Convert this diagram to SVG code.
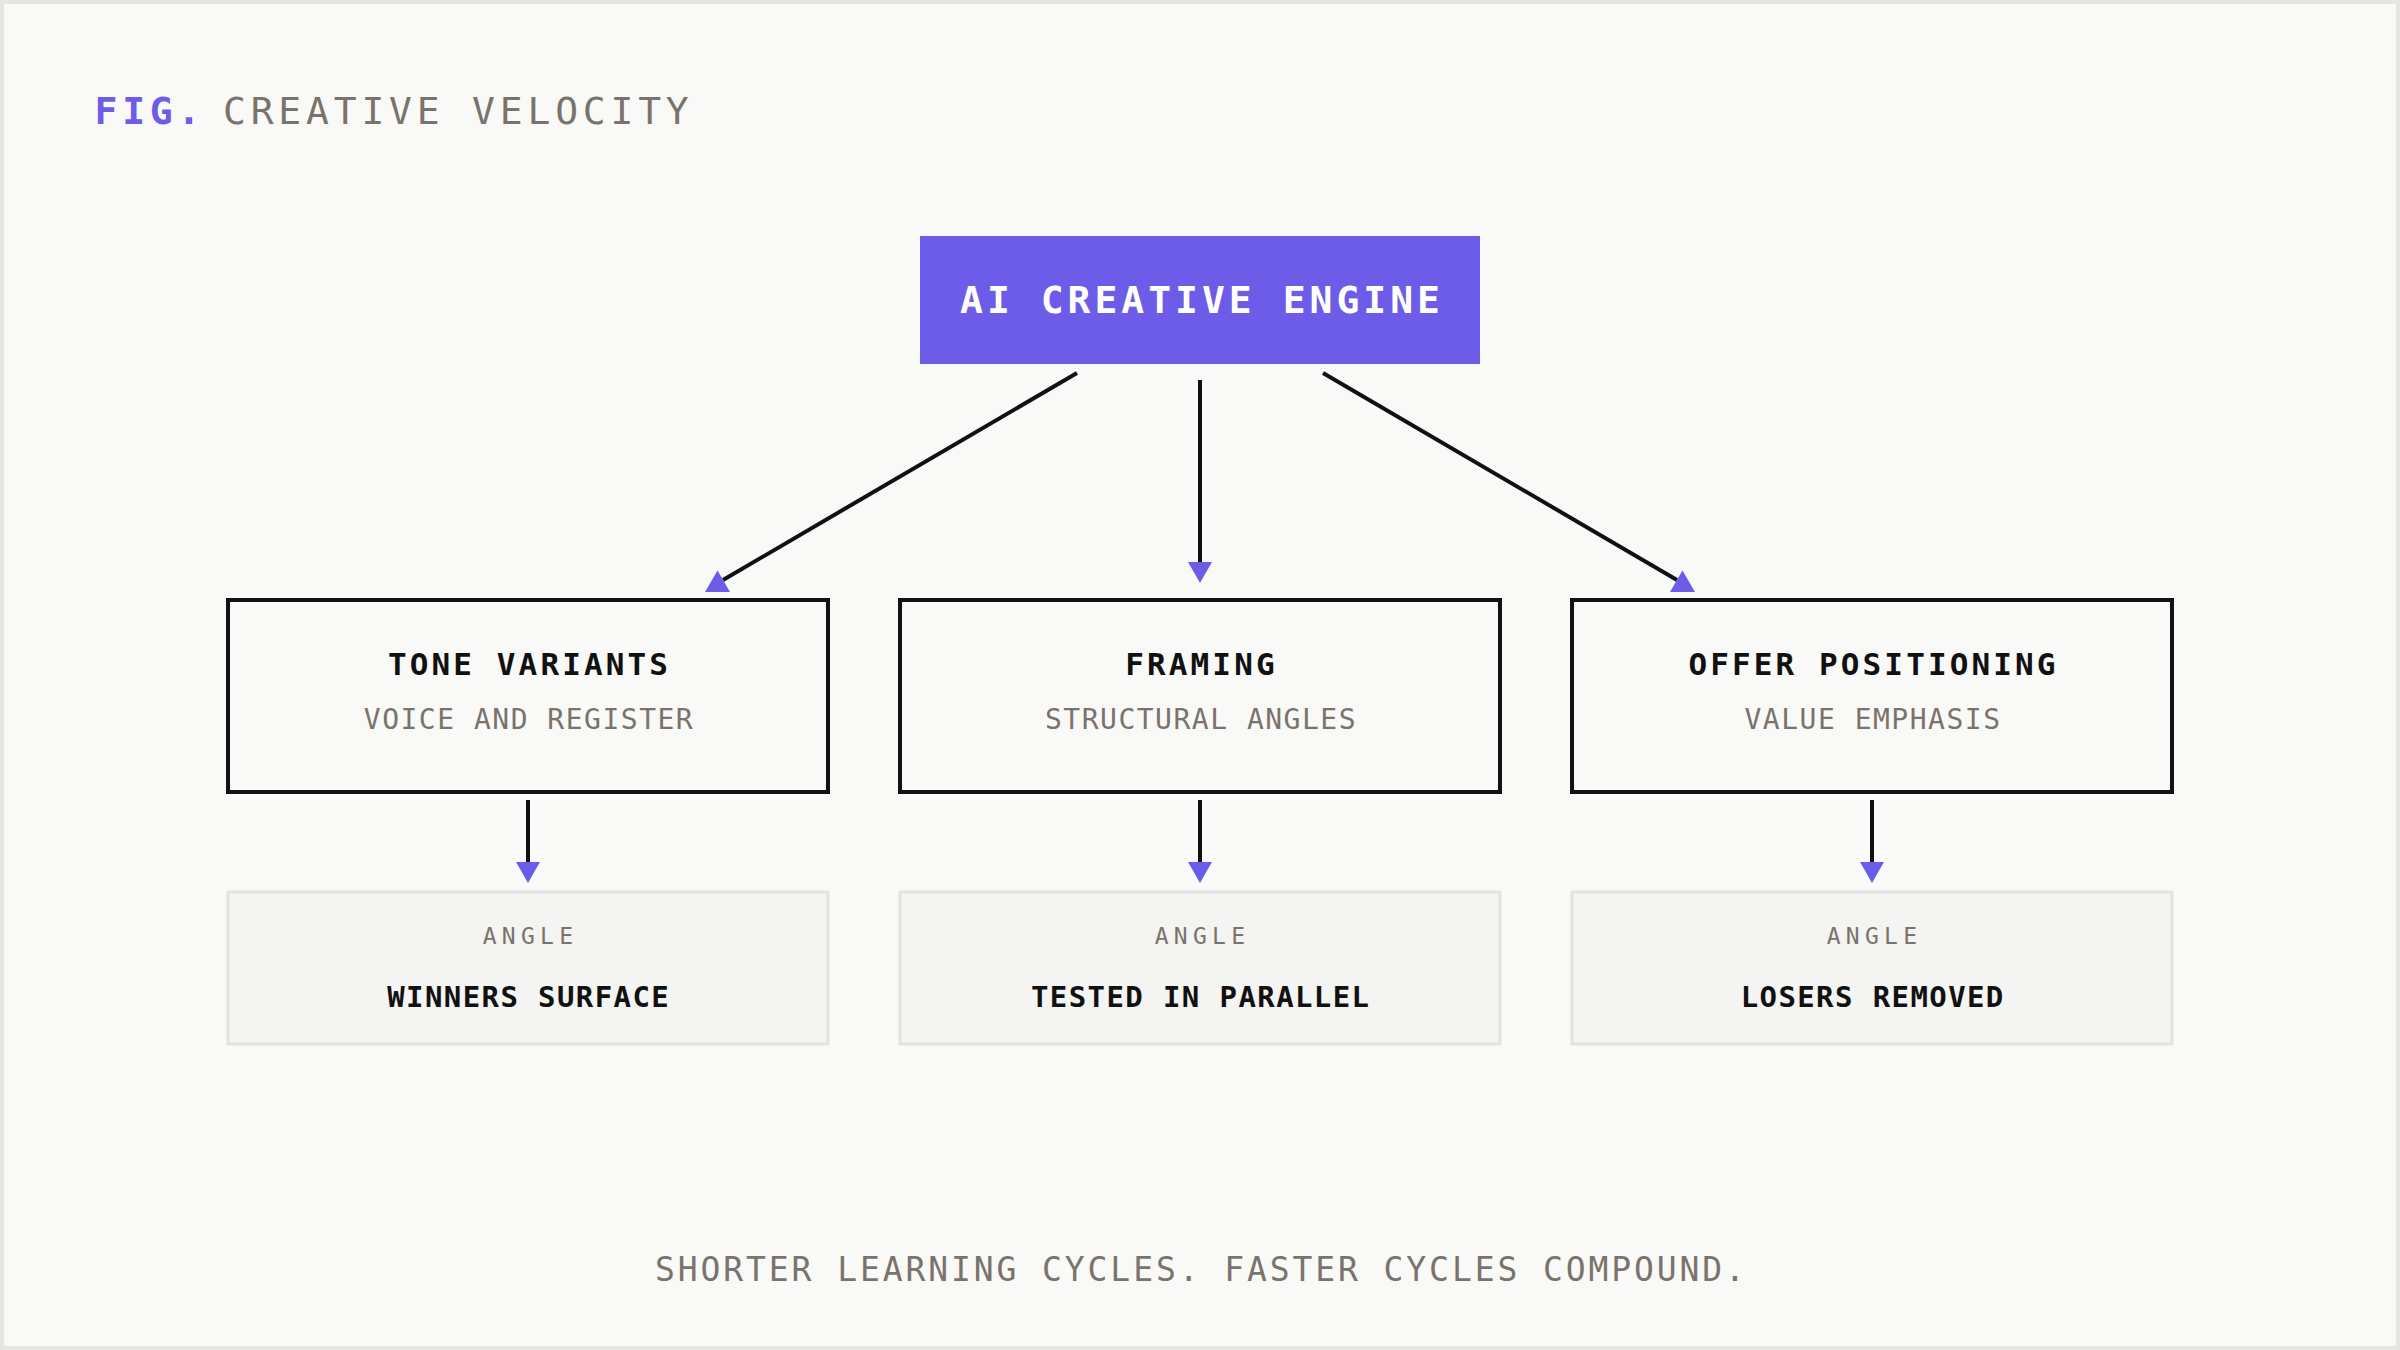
<svg xmlns="http://www.w3.org/2000/svg" width="2400" height="1350" viewBox="0 0 2400 1350">
<style>
.mono{font-family:"DejaVu Sans Mono","Liberation Mono",monospace}
.ttl{font-size:38px;letter-spacing:4.8px}
.eng{font-size:38px;font-weight:bold;letter-spacing:4px;fill:#ffffff}
.nt{font-size:31px;font-weight:bold;letter-spacing:3.1px;fill:#111111}
.ns{font-size:28px;letter-spacing:1.5px;fill:#7a736c}
.al{font-size:23px;letter-spacing:5.3px;fill:#7a736c}
.av{font-size:29px;font-weight:bold;letter-spacing:1.4px;fill:#111111}
.ft{font-size:33px;letter-spacing:2.9px;fill:#7a736c}
.box{fill:#f9f9f7;stroke:#111111;stroke-width:4}
.abox{fill:#f4f4f2;stroke:#e4e3e1;stroke-width:3}
.ln{stroke:#111111;stroke-width:4;fill:none}
.head{fill:#6c5ce7}
</style>
<rect x="0" y="0" width="2400" height="1350" fill="#f9f9f7"/>
<rect x="2" y="2" width="2396" height="1346" fill="none" stroke="#e6e5e2" stroke-width="4"/>
<g id="title">
<text class="mono ttl" x="94.5" y="124"><tspan font-weight="bold" fill="#6c5ce7">FIG.</tspan><tspan x="223" fill="#7a736c">CREATIVE VELOCITY</tspan></text>
</g>
<g id="connectors">
<line class="ln" x1="1077" y1="373" x2="723" y2="580"/>
<polygon class="head" points="717.5,570.5 705,592 730,592"/>
<line class="ln" x1="1200" y1="380" x2="1200" y2="564"/>
<polygon class="head" points="1188,562 1212,562 1200,583"/>
<line class="ln" x1="1323" y1="373" x2="1677" y2="580"/>
<polygon class="head" points="1682.5,570.5 1670,592 1695,592"/>
<line class="ln" x1="528" y1="800" x2="528" y2="864"/>
<polygon class="head" points="516,862 540,862 528,883"/>
<line class="ln" x1="1200" y1="800" x2="1200" y2="864"/>
<polygon class="head" points="1188,862 1212,862 1200,883"/>
<line class="ln" x1="1872" y1="800" x2="1872" y2="864"/>
<polygon class="head" points="1860,862 1884,862 1872,883"/>
</g>
<g id="engine">
<rect x="920" y="236" width="560" height="128" fill="#6c5ce7"/>
<text class="mono eng" x="1202" y="313" text-anchor="middle">AI CREATIVE ENGINE</text>
</g>
<g id="tone">
<rect class="box" x="228" y="600" width="600" height="192"/>
<text class="mono nt" x="529.5" y="674.5" text-anchor="middle">TONE VARIANTS</text>
<text class="mono ns" x="529" y="728.5" text-anchor="middle">VOICE AND REGISTER</text>
</g>
<g id="framing">
<rect class="box" x="900" y="600" width="600" height="192"/>
<text class="mono nt" x="1201.5" y="674.5" text-anchor="middle">FRAMING</text>
<text class="mono ns" x="1201" y="728.5" text-anchor="middle">STRUCTURAL ANGLES</text>
</g>
<g id="offer">
<rect class="box" x="1572" y="600" width="600" height="192"/>
<text class="mono nt" x="1873.5" y="674.5" text-anchor="middle">OFFER POSITIONING</text>
<text class="mono ns" x="1873" y="728.5" text-anchor="middle">VALUE EMPHASIS</text>
</g>
<g id="winners">
<rect class="abox" x="228" y="892" width="600" height="152"/>
<text class="mono al" x="530.5" y="943.5" text-anchor="middle">ANGLE</text>
<text class="mono av" x="528.7" y="1006.5" text-anchor="middle">WINNERS SURFACE</text>
</g>
<g id="tested">
<rect class="abox" x="900" y="892" width="600" height="152"/>
<text class="mono al" x="1202.5" y="943.5" text-anchor="middle">ANGLE</text>
<text class="mono av" x="1200.7" y="1006.5" text-anchor="middle">TESTED IN PARALLEL</text>
</g>
<g id="losers">
<rect class="abox" x="1572" y="892" width="600" height="152"/>
<text class="mono al" x="1874.5" y="943.5" text-anchor="middle">ANGLE</text>
<text class="mono av" x="1872.7" y="1006.5" text-anchor="middle">LOSERS REMOVED</text>
</g>
<g id="footer">
<text class="mono ft" x="1201.45" y="1280.5" text-anchor="middle">SHORTER LEARNING CYCLES. FASTER CYCLES COMPOUND.</text>
</g>
</svg>
